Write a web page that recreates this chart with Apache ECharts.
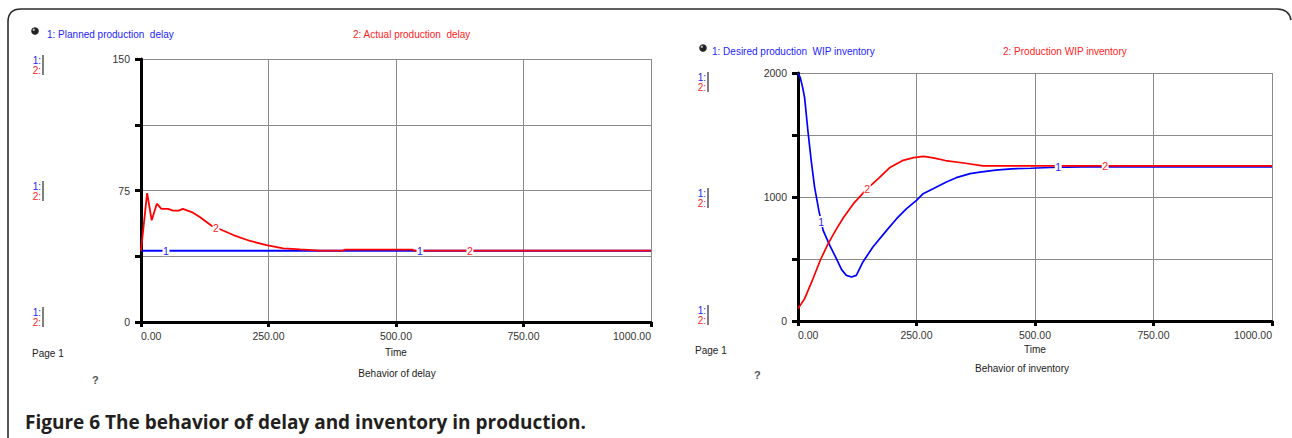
<!DOCTYPE html>
<html><head><meta charset="utf-8">
<script src="https://cdn.jsdelivr.net/npm/echarts@6/dist/echarts.min.js"></script>
<style>html,body{margin:0;padding:0;background:#fff}#c{width:1292px;height:438px}</style>
</head><body><div id="c"></div>
<script>
// ---- data ----
const timeTicks = [0, 250, 500, 750, 1000];

// Left: Behavior of delay
const plannedTime = [0, 1000];
const plannedDelay = [40.7, 40.7];
const actualTime = [0, 12, 21, 31, 40, 53, 63, 74, 82, 101, 116, 139, 155, 181, 214, 246, 279, 312, 351, 396, 400, 533, 535, 1000];
const actualDelay = [40.7, 73.5, 58, 67.5, 64.5, 64.5, 63.5, 63.5, 64.5, 62.5, 59.7, 54.8, 52.9, 49.6, 46.2, 43.9, 42, 41.4, 40.7, 40.7, 41.3, 41.3, 40.7, 40.7];
const delayLabelTimes1 = [49, 547];
const delayLabelTimes2 = [147, 645];

// Right: Behavior of inventory
const desiredTime = [0, 5, 10, 14, 21, 28, 35, 44, 53, 67, 81, 92, 102, 113, 123, 137, 158, 187, 208, 229, 250, 264, 285, 313, 334, 363, 384, 417, 450, 491, 532, 600, 1000];
const desiredWip = [2000, 1960, 1880, 1800, 1530, 1290, 1080, 890, 731, 610, 503, 414, 368, 355, 368, 476, 597, 731, 825, 906, 973, 1027, 1067, 1121, 1156, 1188, 1201, 1216, 1227, 1232, 1238, 1243, 1243];
const wipTime = [0, 14, 30, 47, 63, 80, 96, 117, 146, 170, 193, 220, 244, 265, 288, 311, 353, 390, 1000];
const wipInv = [100, 180, 325, 490, 620, 735, 835, 946, 1068, 1150, 1235, 1293, 1318, 1327, 1314, 1294, 1272, 1251, 1251];
const invLabelTimes1 = [49, 549];
const invLabelTimes2 = [146, 648];

// ---- helpers ----
const BLUE = '#0000ff', RED = '#ff0000';
const TXT_BLUE = '#2323ff', TXT_RED = '#ff2323';
const FONT = '"Liberation Sans", Arial, sans-serif';
function pairs(ts, vs) { return ts.map((t, i) => [t, vs[i]]); }
function at(ts, vs, t) {
  for (let i = 1; i < ts.length; i++) {
    if (t <= ts[i]) { const f = (t - ts[i-1]) / (ts[i] - ts[i-1]); return vs[i-1] + f * (vs[i] - vs[i-1]); }
  }
  return vs[vs.length - 1];
}
function marks(ts, vs, times, name, color) {
  return {
    silent: true, animation: false, symbol: 'rect', symbolSize: [7, 11],
    itemStyle: { color: '#fff' },
    label: { show: true, position: 'inside', color: color, fontSize: 10.5, fontFamily: FONT, formatter: p => p.name },
    data: times.map(t => ({ name: name, coord: [t, at(ts, vs, t)] }))
  };
}
function xAxisCfg(gi, gap) {
  return {
    type: 'value', gridIndex: gi, min: 0, max: 1000, interval: 250,
    name: 'Time', nameLocation: 'middle', nameGap: gap,
    nameTextStyle: { fontSize: 10, color: '#222', fontFamily: FONT },
    axisLine: { show: true, lineStyle: { color: '#000', width: 3 } },
    axisTick: { show: true, length: 5, lineStyle: { color: '#000', width: 3 } },
    axisLabel: { fontSize: 10.5, color: '#333', fontFamily: FONT, margin: 8, formatter: v => v.toFixed(2), alignMinLabel: 'left', alignMaxLabel: 'right' },
    splitLine: { show: true, lineStyle: { color: '#8a8a8a', width: 1 } }
  };
}
function yAxisCfg(gi, max, interval, labelStep) {
  return {
    type: 'value', gridIndex: gi, min: 0, max: max, interval: interval,
    axisLine: { show: true, lineStyle: { color: '#000', width: 3 } },
    axisTick: { show: true, length: 6, lineStyle: { color: '#000', width: 3 } },
    axisLabel: { fontSize: 10.5, color: '#333', fontFamily: FONT, margin: 11, formatter: v => (v % labelStep === 0 ? String(v) : '') },
    splitLine: { show: true, lineStyle: { color: '#8a8a8a', width: 1 } }
  };
}
function txt(text, x, y, fill, opts) {
  opts = opts || {};
  return { type: 'text', silent: true, style: { text: text, x: x, y: y, fill: fill,
    font: (opts.weight || 'normal') + ' ' + (opts.size || 10) + 'px ' + (opts.family || FONT),
    textAlign: opts.align || 'left', textVerticalAlign: 'middle' } };
}
function seg(x1, y1, x2, y2, color, w) {
  return { type: 'line', silent: true, shape: { x1: x1, y1: y1, x2: x2, y2: y2 }, style: { stroke: color, lineWidth: w } };
}
function curve(x1, y1, cx, cy, x2, y2) {
  return { type: 'bezierCurve', silent: true, shape: { x1: x1, y1: y1, cpx1: cx, cpy1: cy, x2: x2, y2: y2 }, style: { stroke: '#2b2b2b', lineWidth: 1.6, fill: null } };
}
function scalePair(x, y, barX) {
  return [
    txt('1:', x, y, TXT_BLUE, { size: 10, align: 'right' }),
    txt('2:', x, y + 10, TXT_RED, { size: 10, align: 'right' }),
    seg(barX, y - 5, barX, y + 15, '#000', 1)
  ];
}
function bullet(x, y) {
  return [
    { type: 'circle', silent: true, shape: { cx: x, cy: y, r: 3.8 }, style: { fill: '#222' } },
    { type: 'circle', silent: true, shape: { cx: x - 1.2, cy: y - 1.2, r: 1.2 }, style: { fill: '#bbb' } }
  ];
}

const graphics = [
  seg(8, 22, 8, 440, '#2b2b2b', 1.6),
  curve(8, 22, 8, 9, 21, 9),
  seg(21, 9, 1277, 9, '#2b2b2b', 1.6),
  curve(1277, 9, 1289, 9, 1291, 20),
  ...bullet(35, 31),
  txt('1: Planned production  delay', 47, 34, TXT_BLUE),
  txt('2: Actual production  delay', 353, 34, TXT_RED),
  ...scalePair(41, 60, 43), ...scalePair(41, 186, 43), ...scalePair(41, 312, 43),
  txt('Page 1', 32, 353, '#222'),
  txt('Behavior of delay', 397, 373, '#222', { align: 'center' }),
  txt('?', 92, 380, '#555', { weight: 'bold', size: 11 }),
  ...bullet(703, 48),
  txt('1: Desired production  WIP inventory', 712, 51, TXT_BLUE),
  txt('2: Production WIP inventory', 1003, 51, TXT_RED),
  ...scalePair(706, 77, 708), ...scalePair(706, 193, 708), ...scalePair(706, 310, 708),
  txt('Page 1', 695, 350, '#222'),
  txt('Behavior of inventory', 1022, 368, '#222', { align: 'center' }),
  txt('?', 754, 375, '#555', { weight: 'bold', size: 11 }),
  txt('Figure 6 The behavior of delay and inventory in production.', 25, 422, '#231f20', { weight: 'bold', size: 19, family: '"Open Sans", "Noto Sans", sans-serif' })
];

const chart = echarts.init(document.getElementById('c'), null, { renderer: 'svg' });
chart.setOption({
  animation: false,
  backgroundColor: '#fff',
  grid: [
    { left: 141, top: 59, width: 510, height: 263 },
    { left: 798, top: 73, width: 474, height: 248 }
  ],
  xAxis: [xAxisCfg(0, 25), xAxisCfg(1, 23)],
  yAxis: [yAxisCfg(0, 150, 37.5, 75), yAxisCfg(1, 2000, 500, 1000)],
  series: [
    { type: 'line', xAxisIndex: 0, yAxisIndex: 0, data: pairs(plannedTime, plannedDelay), showSymbol: false, lineStyle: { color: BLUE, width: 2 }, itemStyle: { color: BLUE },
      markPoint: marks(plannedTime, plannedDelay, delayLabelTimes1, '1', TXT_BLUE) },
    { type: 'line', xAxisIndex: 0, yAxisIndex: 0, data: pairs(actualTime, actualDelay), showSymbol: false, lineStyle: { color: RED, width: 1.8 }, itemStyle: { color: RED },
      markPoint: marks(actualTime, actualDelay, delayLabelTimes2, '2', TXT_RED) },
    { type: 'line', xAxisIndex: 1, yAxisIndex: 1, data: pairs(desiredTime, desiredWip), showSymbol: false, lineStyle: { color: BLUE, width: 1.7 }, itemStyle: { color: BLUE },
      markPoint: marks(desiredTime, desiredWip, invLabelTimes1, '1', TXT_BLUE) },
    { type: 'line', xAxisIndex: 1, yAxisIndex: 1, data: pairs(wipTime, wipInv), showSymbol: false, lineStyle: { color: RED, width: 1.7 }, itemStyle: { color: RED },
      markPoint: marks(wipTime, wipInv, invLabelTimes2, '2', TXT_RED) }
  ],
  graphic: graphics
});
</script></body></html>
